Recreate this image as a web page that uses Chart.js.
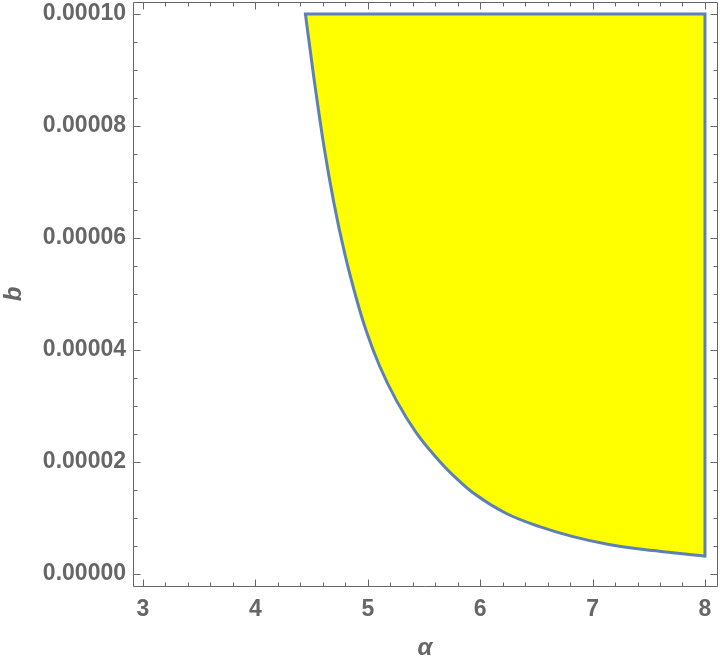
<!DOCTYPE html>
<html>
<head>
<meta charset="utf-8">
<script src="https://cdn.jsdelivr.net/npm/chart.js@4.4.0/dist/chart.umd.min.js"></script>
<style>
  body { margin: 0; background: #fff; }
</style>
</head>
<body>
<canvas id="chart" width="720" height="664"></canvas>
<script>
// boundary curve of the region
const alphaValues = [4.445, 4.517, 4.612, 4.697, 4.795, 4.904, 4.988, 5.106, 5.254, 5.432,
                     5.640, 5.803, 5.936, 6.233, 6.529, 6.826, 7.123, 7.419, 7.715, 8.0];
const bValues = [1.0e-4, 8.91e-5, 7.61e-5, 6.64e-5, 5.72e-5, 4.88e-5, 4.33e-5, 3.71e-5, 3.10e-5, 2.52e-5,
                 2.01e-5, 1.68e-5, 1.45e-5, 1.08e-5, 8.45e-6, 6.67e-6, 5.36e-6, 4.46e-6, 3.81e-6, 3.21e-6];

const regionTop = 0.0001;
const regionRight = 8;

const xTickValues = [3, 4, 5, 6, 7, 8];
const yTickValues = [0, 0.00002, 0.00004, 0.00006, 0.00008, 0.0001];
const xMinorStep = 0.2;
const yMinorStep = 0.000005;

const textColor = '#666666';
const frameColor = '#666666';
const lineColor = '#5e81b5';

const curve = alphaValues.map((a, i) => ({ x: a, y: bValues[i] }));
const edges = [
    { x: alphaValues[0], y: regionTop },
    { x: regionRight, y: regionTop },
    { x: regionRight, y: bValues[bValues.length - 1] },
];

// Mathematica style frame: box all round, ticks pointing inward
const framePlugin = {
    id: 'frame',
    afterDatasetsDraw(chart) {
        const { ctx, chartArea: a, scales: { x, y } } = chart;
        const L = a.left + 0.5, R = a.right + 0.5, T = a.top + 0.5, B = a.bottom + 0.5;
        ctx.save();
        ctx.strokeStyle = frameColor;
        ctx.lineWidth = 1;
        ctx.beginPath();
        ctx.moveTo(L, T); ctx.lineTo(R, T); ctx.lineTo(R, B); ctx.lineTo(L, B); ctx.closePath();

        const isMajor = (v, list) => list.some(t => Math.abs(t - v) < 1e-9);

        for (let k = Math.ceil(x.min / xMinorStep); k * xMinorStep <= x.max; k++) {
            const v = k * xMinorStep;
            const len = isMajor(v, xTickValues) ? 7 : 4;
            const px = Math.round(x.getPixelForValue(v)) + 0.5;
            ctx.moveTo(px, B); ctx.lineTo(px, B - len);
            ctx.moveTo(px, T); ctx.lineTo(px, T + len);
        }
        for (let k = Math.ceil(y.min / yMinorStep); k * yMinorStep <= y.max; k++) {
            const v = k * yMinorStep;
            const len = isMajor(v, yTickValues) ? 7 : 4;
            const py = Math.round(y.getPixelForValue(v)) + 0.5;
            ctx.moveTo(L, py); ctx.lineTo(L + len, py);
            ctx.moveTo(R, py); ctx.lineTo(R - len, py);
        }
        ctx.stroke();
        ctx.restore();
    }
};

const tickFont = { family: '"Liberation Sans", Arial, sans-serif', size: 23, weight: 'bold' };
const titleFont = { family: '"Liberation Sans", Arial, sans-serif', size: 24, weight: 'bold', style: 'italic' };

new Chart(document.getElementById('chart'), {
    type: 'scatter',
    data: {
        datasets: [
            {
                data: curve,
                showLine: true,
                fill: { value: regionTop },
                backgroundColor: '#ffff00',
                borderColor: lineColor,
                borderWidth: 3,
                cubicInterpolationMode: 'monotone',
                pointRadius: 0,
                order: 1,
            },
            {
                data: edges,
                showLine: true,
                fill: false,
                borderColor: lineColor,
                borderWidth: 3,
                tension: 0,
                borderJoinStyle: 'miter',
                borderCapStyle: 'square',
                pointRadius: 0,
                order: 0,
            },
        ],
    },
    options: {
        responsive: false,
        animation: false,
        layout: { padding: { top: 2, right: 3, left: 0, bottom: 0 } },
        plugins: {
            legend: { display: false },
            tooltip: { enabled: false },
        },
        scales: {
            x: {
                type: 'linear',
                min: 2.911,
                max: 8.107,
                grid: { display: false, drawTicks: false },
                border: { display: false },
                afterBuildTicks: s => { s.ticks = xTickValues.map(v => ({ value: v })); },
                afterFit: s => { s.height = 78; s.paddingLeft = 0; s.paddingRight = 0; },
                ticks: {
                    font: tickFont,
                    color: textColor,
                    padding: 10,
                    maxRotation: 0,
                    autoSkip: false,
                    callback: v => String(v),
                },
                title: {
                    display: true,
                    text: 'α',
                    font: titleFont,
                    color: textColor,
                    padding: { top: 0, bottom: 1 },
                },
            },
            y: {
                type: 'linear',
                min: -0.00000214,
                max: 0.00010214,
                grid: { display: false, drawTicks: false },
                border: { display: false },
                afterBuildTicks: s => { s.ticks = yTickValues.map(v => ({ value: v })); },
                afterFit: s => { s.width = 133; s.paddingTop = 0; s.paddingBottom = 0; },
                ticks: {
                    font: tickFont,
                    color: textColor,
                    padding: 7,
                    autoSkip: false,
                    callback: v => Number(v).toFixed(5),
                },
                title: {
                    display: true,
                    text: 'b',
                    font: titleFont,
                    color: textColor,
                    padding: { top: 0, bottom: 0 },
                },
            },
        },
    },
    plugins: [framePlugin],
});
</script>
</body>
</html>
